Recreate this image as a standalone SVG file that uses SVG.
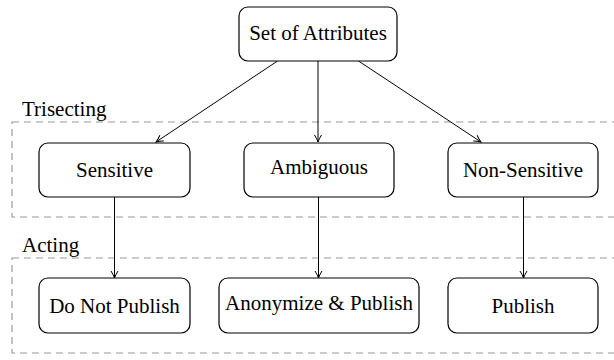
<svg xmlns="http://www.w3.org/2000/svg" width="614" height="360" viewBox="0 0 614 360" font-family="Liberation Serif, Times New Roman, serif">
<style>
.box{fill:#fff;stroke:#000;stroke-width:1.2}
.lbl{font-size:21px;fill:#000}
.mid{text-anchor:middle}
.grp{fill:none;stroke:#999;stroke-width:1.2;stroke-dasharray:7 5}
.edge{stroke:#000;stroke-width:1;fill:none;marker-end:url(#arr)}
</style>
<defs>
<marker id="arr" viewBox="0 0 10 10" refX="9" refY="5" markerWidth="10" markerHeight="10" markerUnits="userSpaceOnUse" orient="auto">
<path d="M2,1.5 Q6,4 9,5 Q6,6 2,8.5" fill="none" stroke="#000" stroke-width="1"/>
</marker>
</defs>
<g id="groups">
<rect class="grp" x="12" y="122" width="620" height="95"/>
<text class="lbl" x="22" y="116">Trisecting</text>
<rect class="grp" x="12" y="258" width="620" height="95"/>
<text class="lbl" x="22" y="252">Acting</text>
</g>
<g id="connectors">
<line class="edge" x1="277.5" y1="61" x2="156" y2="142"/>
<line class="edge" x1="318" y1="61" x2="318" y2="142"/>
<line class="edge" x1="358.5" y1="61" x2="481" y2="142"/>
<line class="edge" x1="114.5" y1="197" x2="114.5" y2="278"/>
<line class="edge" x1="318.5" y1="197" x2="318.5" y2="278"/>
<line class="edge" x1="523.5" y1="197" x2="523.5" y2="278"/>
</g>
<g id="attrs"><rect class="box" x="239" y="7" width="158" height="54" rx="9"/><text class="lbl mid" x="318" y="40">Set of Attributes</text></g>
<g id="sensitive"><rect class="box" x="39" y="143" width="151" height="54" rx="9"/><text class="lbl mid" x="114.5" y="177">Sensitive</text></g>
<g id="ambiguous"><rect class="box" x="244" y="143" width="150" height="54" rx="9"/><text class="lbl mid" x="319" y="174">Ambiguous</text></g>
<g id="nonsensitive"><rect class="box" x="448" y="143" width="150" height="54" rx="9"/><text class="lbl mid" x="523" y="177">Non-Sensitive</text></g>
<g id="donotpublish"><rect class="box" x="39" y="278" width="151" height="55" rx="9"/><text class="lbl mid" x="114.5" y="313">Do Not Publish</text></g>
<g id="anonymize"><rect class="box" x="219" y="278" width="200" height="55" rx="9"/><text class="lbl mid" x="319" y="310">Anonymize &amp; Publish</text></g>
<g id="publish"><rect class="box" x="448" y="278" width="150" height="55" rx="9"/><text class="lbl mid" x="523" y="313">Publish</text></g>
</svg>
